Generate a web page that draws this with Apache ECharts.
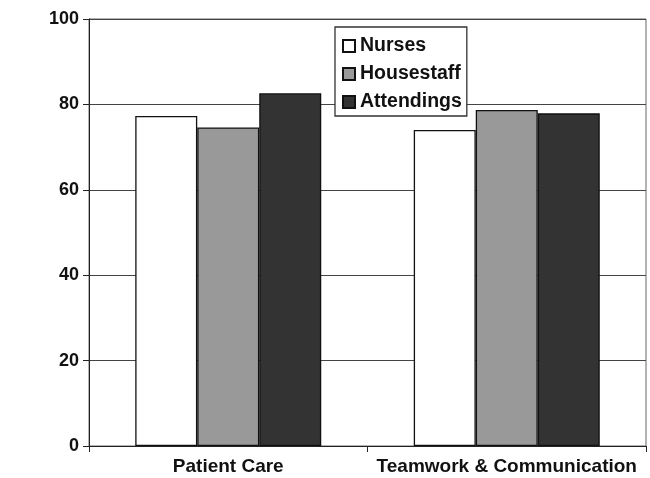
<!DOCTYPE html>
<html>
<head>
<meta charset="utf-8">
<script src="https://cdn.jsdelivr.net/npm/echarts@6/dist/echarts.min.js"></script>
<style>
	html, body { margin: 0; padding: 0; background: #fff; }
	#chart { width: 650px; height: 478px; }
</style>
</head>
<body>
<div id="chart"></div>
<script>
var categories = ['Patient Care', 'Teamwork & Communication'];
var nurses = [77.3, 74.0];
var housestaff = [74.6, 78.7];
var attendings = [82.6, 77.9];
var yTicks = [0, 20, 40, 60, 80, 100];

var font = "'Liberation Sans', Arial, sans-serif";

function barSeries(name, data, color) {
	return {
		name: name,
		type: 'bar',
		data: data,
		barWidth: 62,
		barGap: '0%',
		itemStyle: {
			color: color,
			borderColor: '#111',
			borderWidth: 1.3
		}
	};
}

var chart = echarts.init(document.getElementById('chart'));
var option = {
	animation: false,
	backgroundColor: '#fff',
	grid: {
		left: 89,
		right: 4,
		top: 19,
		bottom: 32,
		show: true,
		borderColor: '#666',
		borderWidth: 1
	},
	legend: {
		orient: 'vertical',
		left: 335,
		top: 27,
		icon: 'rect',
		itemWidth: 12,
		itemHeight: 12,
		itemGap: 8,
		padding: [9, 5, 4, 7],
		backgroundColor: '#fff',
		borderColor: '#333',
		borderWidth: 1.3,
		textStyle: {
			fontFamily: font,
			fontWeight: 'bold',
			fontSize: 19.5,
			color: '#111'
		},
		data: ['Nurses', 'Housestaff', 'Attendings']
	},
	xAxis: {
		type: 'category',
		data: categories,
		axisLine: { lineStyle: { color: '#222', width: 1 } },
		axisTick: { show: true, length: 6, lineStyle: { color: '#222' } },
		axisLabel: {
			interval: 0,
			margin: 11,
			fontFamily: font,
			fontWeight: 'bold',
			fontSize: 19,
			color: '#111'
		}
	},
	yAxis: {
		type: 'value',
		min: yTicks[0],
		max: yTicks[yTicks.length - 1],
		interval: yTicks[1] - yTicks[0],
		axisLine: { show: true, lineStyle: { color: '#222', width: 1 } },
		axisTick: { show: true, length: 6, lineStyle: { color: '#222' } },
		splitLine: { lineStyle: { color: '#444', width: 1.2 } },
		axisLabel: {
			margin: 10,
			fontFamily: font,
			fontWeight: 'bold',
			fontSize: 18,
			color: '#111'
		}
	},
	series: [
		barSeries('Nurses', nurses, '#ffffff'),
		barSeries('Housestaff', housestaff, '#999999'),
		barSeries('Attendings', attendings, '#333333')
	]
};
chart.setOption(option);
</script>
</body>
</html>
